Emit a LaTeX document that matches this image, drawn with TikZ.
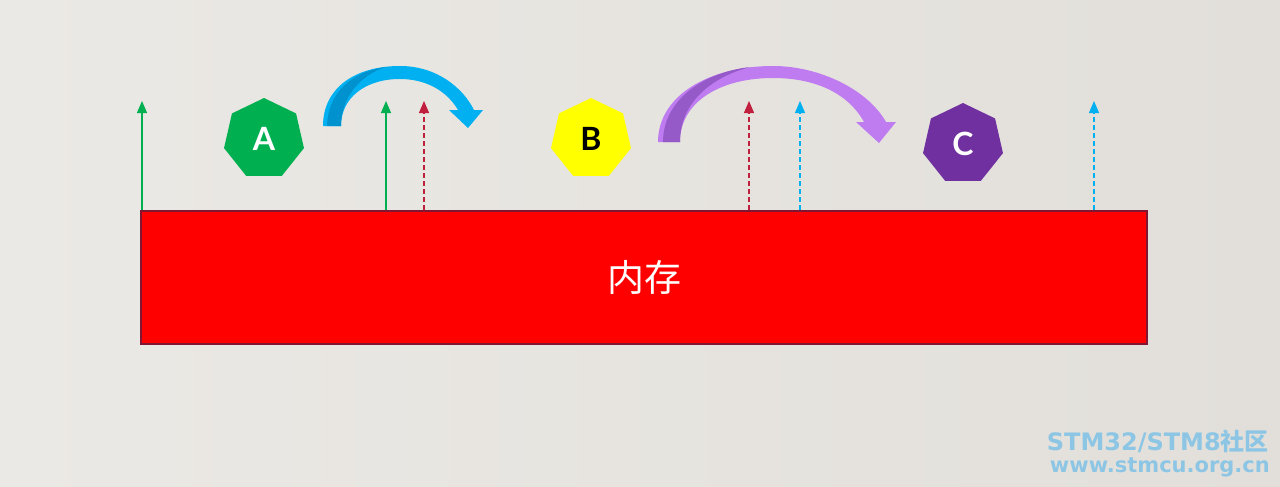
\documentclass[tikz,border=0pt]{standalone}
\usepackage{fontspec}
\usepackage{xcolor}
\usepackage{tikz}
\usetikzlibrary{shapes.geometric, arrows.meta, positioning, calc}
\newfontfamily\cjkfont{Noto Sans CJK SC}
\newfontfamily\letterfont{Lato}
\newfontfamily\markfont{DejaVu Sans}
\definecolor{bgleft}{RGB}{235,233,229}
\definecolor{bgright}{RGB}{226,223,218}
\definecolor{memred}{RGB}{255,0,0}
\definecolor{memedge}{RGB}{130,22,50}
\definecolor{taskgreen}{RGB}{0,176,80}
\definecolor{taskyellow}{RGB}{255,255,0}
\definecolor{taskpurple}{RGB}{112,48,160}
\definecolor{ptrred}{RGB}{192,32,62}
\definecolor{ptrblue}{RGB}{0,176,240}
\definecolor{jumpblue}{RGB}{0,176,240}
\definecolor{jumpbluedark}{RGB}{0,146,206}
\definecolor{jumppurple}{RGB}{190,124,240}
\definecolor{jumppurpledark}{RGB}{150,90,200}
\definecolor{markblue}{RGB}{140,198,228}
\tikzstyle{task} = [regular polygon, regular polygon sides=7, minimum size=82pt, inner sep=0pt, font=\letterfont\bfseries\fontsize{32}{32}\selectfont]
\tikzstyle{ptr} = [line width=1.3pt, -{Triangle[width=10pt,length=12pt]}]
\tikzstyle{ptrdash} = [ptr, dash pattern=on 5pt off 3pt]
\tikzstyle{watermark} = [anchor=east, inner sep=0pt, text=markblue]

\begin{document}
\begin{tikzpicture}[x=1pt, y=-1pt]
    % Background
    \shade[left color=bgleft, right color=bgright] (0,0) rectangle (1280,487);
    \useasboundingbox (0,0) rectangle (1280,487);

    % Memory
    \node[draw=memedge, line width=2.5pt, fill=memred, minimum width=1006pt, minimum height=133pt, text=white, font=\cjkfont\fontsize{37}{37}\selectfont] (mem) at (644,277.5) {内存};

    % Tasks
    \node[task, fill=taskgreen, text=white] (taskA) at (264,139) {A};
    \node[task, fill=taskyellow, text=black] (taskB) at (591,139) {B};
    \node[task, fill=taskpurple, text=white] (taskC) at (963,144) {C};

    % Pointer tips
    \coordinate (p1) at (142,101);
    \coordinate (p2) at (386,101);
    \coordinate (p3) at (424,101);
    \coordinate (p4) at (749,101);
    \coordinate (p5) at (800,101);
    \coordinate (p6) at (1094,101);

    % Pointers
    \draw[ptr, taskgreen] (p1 |- mem.north) -- (p1);
    \draw[ptr, taskgreen] (p2 |- mem.north) -- (p2);
    \draw[ptrdash, ptrred] (p3 |- mem.north) -- (p3);
    \draw[ptrdash, ptrred] (p4 |- mem.north) -- (p4);
    \draw[ptrdash, ptrblue] (p5 |- mem.north) -- (p5);
    \draw[ptrdash, ptrblue] (p6 |- mem.north) -- (p6);

    % Switch A -> B
    \fill[jumpblue] (323,126) .. controls (323,88) and (355,66) .. (400,66)
        .. controls (437,66) and (463,88) .. (474,110) -- (483,110) -- (468,128) -- (449,110) -- (458,110)
        .. controls (447,91) and (426,79) .. (400,79) .. controls (365,79) and (341,98) .. (341,126) -- cycle;
    \fill[jumpbluedark] (327,126) .. controls (328,94) and (350,72) .. (386,67)
        .. controls (360,75) and (341,98) .. (341,126) -- cycle;

    % Switch B -> C
    \fill[jumppurple] (658,142) .. controls (658,95) and (710,66) .. (773,66)
        .. controls (820,66) and (868,90) .. (886,122) -- (896,122) -- (879,143) -- (856,122) -- (864,122)
        .. controls (848,93) and (815,78) .. (773,78) .. controls (720,78) and (680,102) .. (680,142) -- cycle;
    \fill[jumppurpledark] (663,142) .. controls (663,102) and (700,73) .. (750,67)
        .. controls (712,77) and (680,102) .. (680,142) -- cycle;

    % Watermark
    \node[watermark, font=\markfont\bfseries\fontsize{24}{24}\selectfont] (mark1) at (1269,441) {STM32/STM8{\cjkfont\bfseries 社区}};
    \node[watermark, font=\markfont\bfseries\fontsize{21}{21}\selectfont] (mark2) at (1270,467) {www.stmcu.org.cn};
\end{tikzpicture}
\end{document}
